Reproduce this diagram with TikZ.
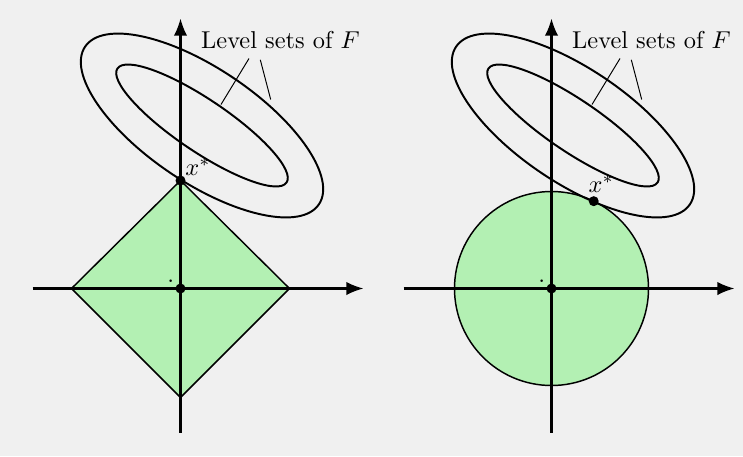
\documentclass[tikz,border=0pt]{standalone}
\usepackage{amsmath,amssymb}
\usepackage{tikz}
\usepackage{xcolor}
\usetikzlibrary{arrows.meta,calc}
\definecolor{canvas}{HTML}{F0F0F0}
\definecolor{ball}{HTML}{B3F0B3}
\tikzset{
  axis/.style={-{Latex[length=7pt,width=5.5pt]}, line width=0.9pt, draw=black},
  level/.style={line width=0.8pt, draw=black},
  region/.style={draw=black, fill=ball, line width=0.6pt},
  pointer/.style={draw=black, line width=0.4pt},
  dot/.style={circle, fill=black, inner sep=0pt, minimum size=0.144cm}
}
\begin{document}
\begin{tikzpicture}[x=0.0144cm,y=0.0144cm]
        \path[fill=canvas] (0,0) rectangle (743,456);
        \coordinate (oL) at (180.5,167.5);
        \coordinate (oR) at (551.5,167.5);
        \draw[region] (180.5,275.5) -- (289.5,167.5) -- (180.5,58.5) -- (71.5,167.5) -- cycle;
        \draw[region] (oR) circle [radius=97];
        \foreach \nm in {L,R} {
          \begin{scope}[shift={(o\nm)}]
            \draw[level,rotate around={-34:(21.5,163)}] (21.5,163) ellipse [x radius=141, y radius=57];
            \draw[level,rotate around={-34:(21.5,163)}] (21.5,163) ellipse [x radius=102, y radius=26];
            \coordinate (west\nm) at (-148,0);
            \coordinate (east\nm) at (183,0);
            \coordinate (south\nm) at (0,-144);
            \coordinate (north\nm) at (0,270);
            \draw[axis] (west\nm) -- (east\nm);
            \draw[axis] (south\nm) -- (north\nm);
            \node[inner sep=0pt,anchor=base west] (lvl\nm) at (20.2,240) {Level sets of $F$};
            \coordinate (inner\nm) at (40.5,184);
            \coordinate (outer\nm) at (90.2,189);
            \draw[pointer] ($(lvl\nm.base west)+(48.3,-10)$) -- (inner\nm);
            \draw[pointer] ($(lvl\nm.base west)+(59.6,-11.3)$) -- (outer\nm);
            \node[dot] (orig\nm) at (0,0) {};
            \node[inner sep=0pt] (tick\nm) at (-9.8,7.3) {.};
          \end{scope}
        }
        \node[dot] (xstarL) at ($(oL)+(0,108)$) {};
        \node[inner sep=0pt,anchor=base west] (starL) at ([shift={(4.5,5)}]xstarL.center) {$x^*$};
        \node[dot] (xstarR) at ($(oR)+(64.2:97)$) {};
        \node[inner sep=0pt,anchor=base west] (starR) at ([shift={(-5.5,8.4)}]xstarR.center) {$x^*$};
      \end{tikzpicture}
\end{document}
